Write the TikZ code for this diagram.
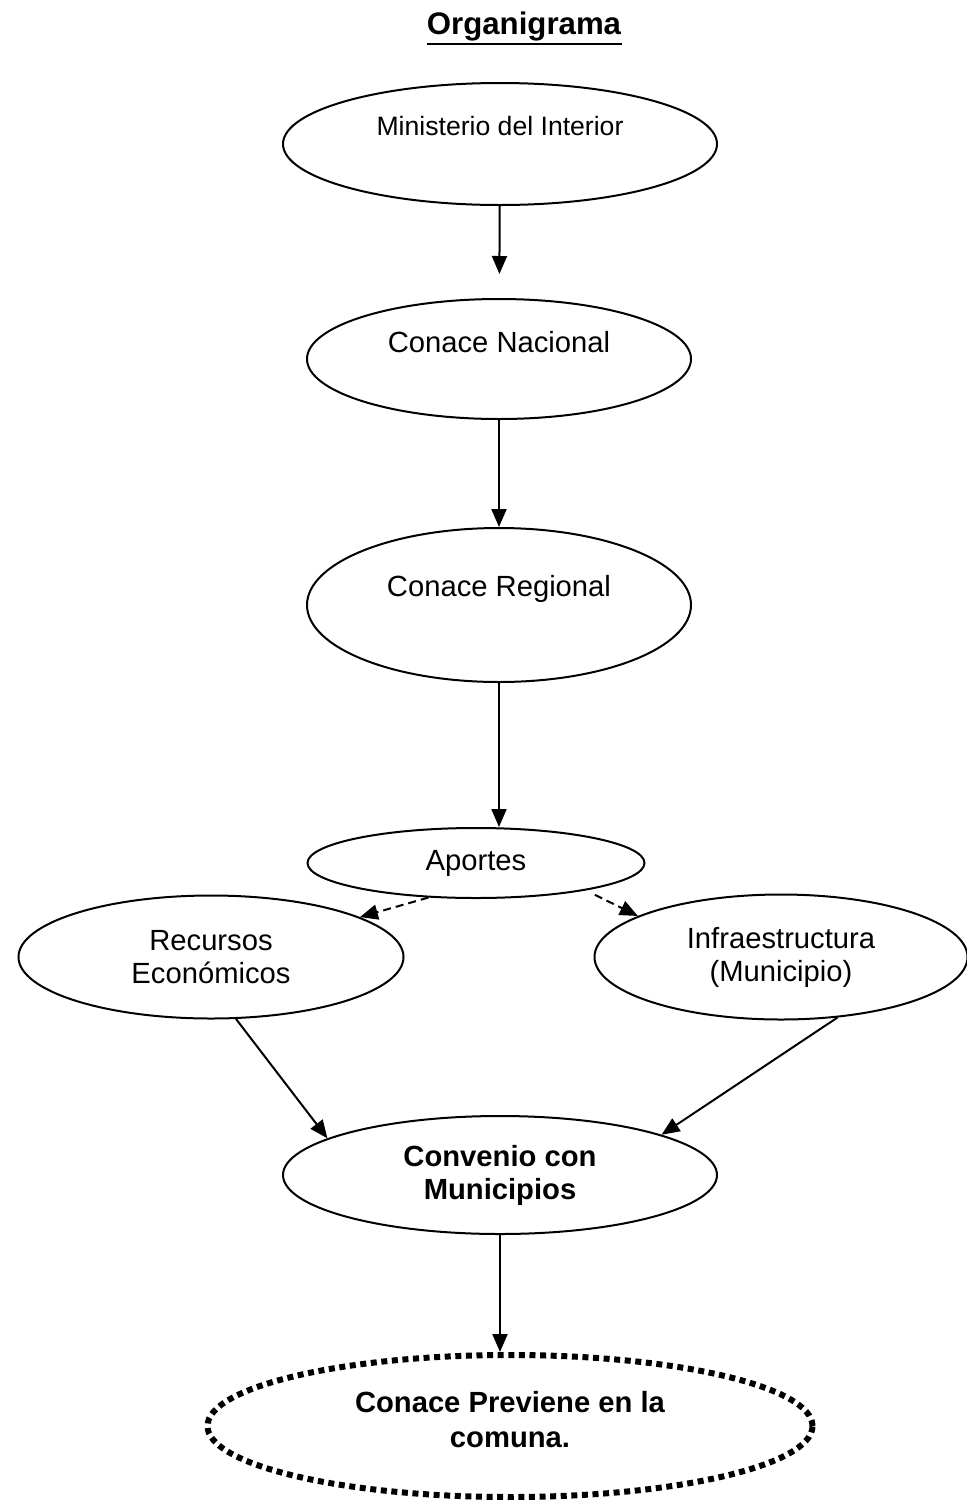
\documentclass[tikz,border=0pt]{standalone}
\usepackage{fontspec}
\setmainfont{Liberation Sans}
\usetikzlibrary{shapes.geometric,arrows.meta}

\begin{document}
\begin{tikzpicture}[x=0.5pt, y=-0.5pt,
    >={Triangle[length=9pt,width=7.5pt]},
    oval/.style={ellipse, draw, line width=1pt, inner sep=0pt, align=center,
        font=\fontsize{14.6}{16.5}\selectfont},
    link/.style={->, line width=1pt},
    share/.style={->, line width=1pt, dash pattern=on 4pt off 2.5pt}]
    % Page frame
    \useasboundingbox (0,0) rectangle (967,1500);

    % Title
    \node[inner sep=0pt, font=\fontsize{15.6}{18}\selectfont\bfseries] (title) at (524,26) {Organigrama};
    \draw[line width=1.4pt] ([yshift=-1.5pt]title.south west) -- ([yshift=-1.5pt]title.south east);

    % Chain of command
    \node[oval, minimum width=217pt, minimum height=61pt, text height=8pt, text depth=16.5pt,
        font=\fontsize{13.3}{16}\selectfont] (min) at (500,144) {Ministerio del Interior};
    \node[oval, minimum width=192pt, minimum height=60pt, text height=9pt, text depth=15.6pt] (nac) at (499,359) {Conace Nacional};
    \node[oval, minimum width=192pt, minimum height=77pt, text height=9pt, text depth=17.6pt] (reg) at (499,605) {Conace Regional};
    \node[oval, minimum width=168.5pt, minimum height=35pt] (apo) at (476,863) {Aportes};

    % Contributions
    \node[oval, minimum width=192.5pt, minimum height=61.5pt] (rec) at (211,957) {Recursos\\Económicos};
    \node[oval, minimum width=186.5pt, minimum height=62.5pt] (inf) at (781,957) {Infraestructura\\(Municipio)};

    % Agreement and result
    \node[oval, minimum width=217pt, minimum height=59pt,
        font=\fontsize{14.6}{16.5}\selectfont\bfseries] (conv) at (500,1175) {Convenio con\\Municipios};
    \node[oval, minimum width=302.5pt, minimum height=71pt, line width=3pt, dash pattern=on 3pt off 2.3pt,
        text depth=6.5pt,
        font=\fontsize{14.6}{17.5}\selectfont\bfseries] (prev) at (510,1426) {Conace Previene en la\\comuna.};

    % Arrows
    \draw[link, shorten >=12pt] (min) -- (nac);
    \draw[link] (nac) -- (reg);
    \draw[link] (reg.south) -- (reg.south |- apo.north);
    \draw[share] (apo.216) -- (rec.15);
    \draw[share, shorten <=5pt] (apo.346) -- (inf.164);
    \draw[link] (rec.292) -- (conv.168);
    \draw[link] (inf.313) -- (conv.14);
    \draw[link] (conv.south) -- (conv.south |- prev.north);
\end{tikzpicture}
\end{document}
